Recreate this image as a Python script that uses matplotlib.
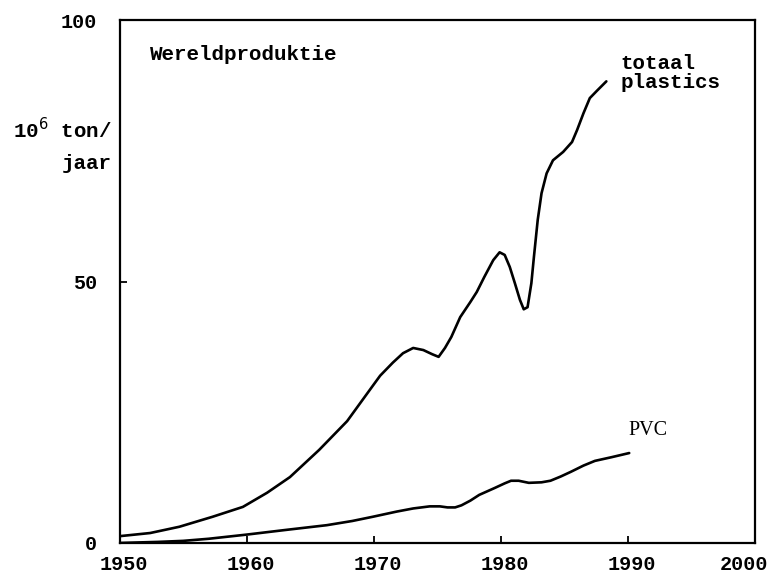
import matplotlib
matplotlib.use('Agg')
import matplotlib.pyplot as plt
import matplotlib.transforms as mtransforms

# totaal plastics, 10^6 ton/jaar
total_years = [1950, 1952.4, 1954.7, 1957.3, 1959.7, 1961.6, 1963.4, 1965.7, 1967.9,
               1969.9, 1970.5, 1971.5, 1972.3, 1973.1, 1973.9, 1974.6, 1975.1, 1975.6,
               1976.1, 1976.8, 1977.6, 1978.1, 1978.7, 1979.4, 1979.9, 1980.3, 1980.7,
               1981.1, 1981.5, 1981.8, 1982.1, 1982.4, 1982.6, 1982.9, 1983.2, 1983.6,
               1984.1, 1984.9, 1985.6, 1986.0, 1986.5, 1987.0, 1987.6, 1988.3]
total_values = [1.3, 1.9, 3.1, 5.0, 6.9, 9.6, 12.6, 17.8, 23.3,
                30.0, 32.0, 34.5, 36.3, 37.3, 36.9, 36.1, 35.6, 37.3,
                39.4, 43.2, 46.1, 48.0, 50.9, 54.1, 55.6, 55.1, 52.8,
                49.7, 46.5, 44.7, 45.1, 49.7, 54.7, 61.8, 66.9, 70.7,
                73.2, 74.8, 76.7, 79.0, 82.2, 85.1, 86.6, 88.3]

# PVC
pvc_years = [1950, 1953, 1955, 1957, 1960, 1963.1, 1966.3, 1968.3, 1969.9, 1971.8,
             1973.1, 1974.4, 1975.2, 1975.8, 1976.4, 1976.9, 1977.6, 1978.3, 1979.5,
             1980.3, 1980.8, 1981.4, 1982.2, 1983.2, 1983.9, 1984.7, 1985.5, 1986.5,
             1987.4, 1988.7, 1990.1]
pvc_values = [0.0, 0.2, 0.4, 0.8, 1.6, 2.5, 3.4, 4.2, 5.0, 6.0,
              6.6, 7.0, 7.0, 6.8, 6.8, 7.2, 8.1, 9.2, 10.5,
              11.4, 11.9, 11.9, 11.5, 11.6, 11.9, 12.7, 13.6, 14.8,
              15.7, 16.4, 17.2]

x_ticks = [1950, 1960, 1970, 1980, 1990, 2000]
y_ticks = [0, 50, 100]

mono = 'Liberation Mono'

fig = plt.figure(figsize=(7.72, 5.77), dpi=100)
ax = fig.add_axes([0.155, 0.059, 0.823, 0.906])

ax.plot(total_years, total_values, color='black', linewidth=1.9,
        solid_capstyle='round', solid_joinstyle='round')
ax.plot(pvc_years, pvc_values, color='black', linewidth=1.9,
        solid_capstyle='round', solid_joinstyle='round')

ax.set_xlim(1950, 2000)
ax.set_ylim(0, 100)
ax.set_xticks(x_ticks)
ax.set_yticks(y_ticks)
ax.set_xticklabels([str(t) for t in x_ticks], family=mono, fontsize=14.5, fontweight='bold')
ax.set_yticklabels([str(t) for t in y_ticks], family=mono, fontsize=14.5, fontweight='bold')
ax.tick_params(axis='x', direction='in', length=5, width=1.3, pad=9)
ax.tick_params(axis='y', direction='in', length=5, width=1.3, pad=16)

# nudge the labels a little right, and the last one back inside the figure
for lbl in ax.get_xticklabels()[:-1]:
    lbl.set_transform(lbl.get_transform() + mtransforms.ScaledTranslation(0.04, 0, fig.dpi_scale_trans))
last = ax.get_xticklabels()[-1]
last.set_transform(last.get_transform() + mtransforms.ScaledTranslation(-0.11, 0, fig.dpi_scale_trans))

for s in ax.spines.values():
    s.set_linewidth(1.6)

ax.text(1952.4, 93.4, 'Wereldproduktie', family=mono, fontsize=15, fontweight='bold',
        va='center', ha='left')
ax.text(1989.4, 89.9, 'totaal\nplastics', family=mono, fontsize=15, fontweight='bold',
        va='center', ha='left', linespacing=1.0)
ax.text(1990.0, 21.5, 'PVC', family='Liberation Serif', fontsize=14.5,
        va='center', ha='left')

fig.text(0.017, 0.775, r'10$^{6}$ ton/', family=mono, fontsize=15, fontweight='bold',
         va='center', ha='left')
fig.text(0.145, 0.717, 'jaar', family=mono, fontsize=15, fontweight='bold',
         va='center', ha='right')

fig.savefig('out.png', dpi=100)
